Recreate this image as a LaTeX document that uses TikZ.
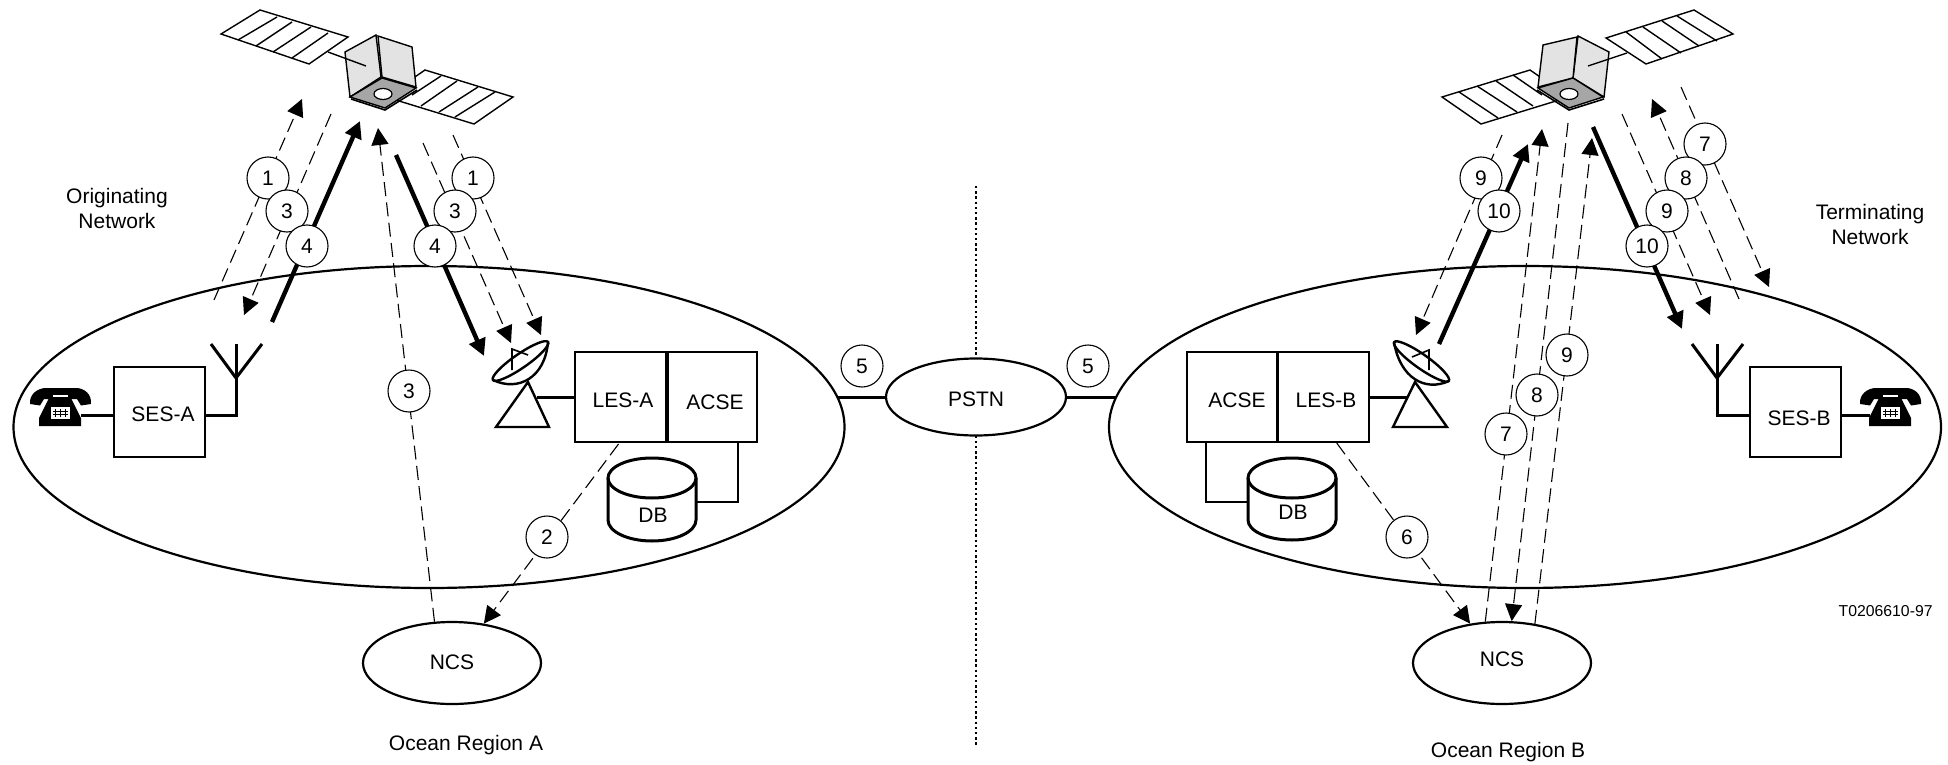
\documentclass[tikz,border=0pt]{standalone}
\usepackage{fontspec}
\setmainfont{Liberation Sans}
\usetikzlibrary{arrows.meta,shapes.geometric}
\tikzset{
  txt/.style={inner sep=0pt,font=\fontsize{10.5}{12.5}\selectfont,align=center},
  smalltxt/.style={inner sep=0pt,font=\fontsize{7.9}{9}\selectfont},
  netw/.style={ellipse,draw,line width=1.1pt,inner sep=0pt,minimum width=415.5pt,minimum height=161pt},
  minor/.style={ellipse,draw,fill=white,line width=1.1pt,inner sep=0pt,minimum width=89pt,minimum height=41pt,font=\fontsize{10.5}{12.5}\selectfont},
  unit/.style={rectangle,draw,line width=1pt,inner sep=0pt,minimum width=45.5pt,minimum height=45pt,font=\fontsize{10.5}{12.5}\selectfont},
  num/.style={circle,draw,fill=white,line width=0.55pt,inner sep=0pt,minimum size=21pt,font=\fontsize{10.5}{12.5}\selectfont},
  wire/.style={line width=1.5pt},
  thinwire/.style={line width=1pt},
  sig/.style={line width=0.55pt,dash pattern=on 7pt off 3.2pt},
  sigarrow/.style={sig,-{Triangle[length=8.5pt,width=8.5pt]}},
  heavy/.style={line width=2.2pt},
  heavyarrow/.style={heavy,-{Triangle[length=8.5pt,width=8.5pt]}},
  panel/.style={line width=0.7pt,fill=white},
  stripe/.style={line width=0.7pt},
  face/.style={line width=0.7pt,fill=black!11},
  under/.style={line width=0.7pt,fill=black!35},
  dishline/.style={line width=1.2pt},
}
\newcommand{\lowered}[2]{\raisebox{\dimexpr-3.75pt-#1\relax}[0pt][0pt]{#2}}
\newcommand{\phoneicon}[2]{%
  \begin{scope}[shift={(#1,#2)}]
    \fill (0,16) .. controls (-1,6) and (8,0) .. (16,0) -- (46,0) .. controls (54,0) and (62,6) .. (61,16) -- (51,17.5) -- (47,11) -- (14,11) -- (10,17.5) -- cycle;
    \fill (9,38) -- (51,38) -- (51,30) -- (41,10) -- (19,10) -- (9,30) -- cycle;
    \draw[white,line width=0.6pt] (23,8) -- (38,8);
    \fill[white] (21,19) rectangle (40,31);
    \draw[line width=0.3pt] (25.5,21) -- (25.5,29) (30.5,21) -- (30.5,29) (35.5,21) -- (35.5,29) (23,23.5) -- (38,23.5) (23,26.5) -- (38,26.5);
  \end{scope}}
\begin{document}
\begin{tikzpicture}[x=0.5pt,y=-0.5pt]
\useasboundingbox (0,0) rectangle (1948,765);

% dotted divider
\coordinate (divtop) at (976,186);
\coordinate (divbot) at (976,747);
\draw[line width=0.6pt,dash pattern=on 1.2pt off 1.4pt] (divtop) -- (divbot);

% networks
\node[netw] (lnet) at (429,427) {};
\node[netw,minimum width=416pt] (rnet) at (1525,427) {};
\node[minor,minimum width=90pt,minimum height=38.5pt] (pstn) at (976,397) {\lowered{1pt}{PSTN}};
\node[minor] (ncsa) at (452,663) {\lowered{-0.5pt}{NCS}};
\node[minor] (ncsb) at (1502,663) {\lowered{-2pt}{NCS}};
\draw[wire,shorten >=-4pt] (pstn.west) -- (pstn.west -| lnet.east);
\draw[wire,shorten >=-4pt] (pstn.east) -- (pstn.east -| rnet.west);

% left satellite
\draw[panel] (221,34) -- (260,10) -- (348,37) -- (309,64) -- cycle;
\draw[stripe] (238,40) -- (277,17) (256,46) -- (292,22) (273,52) -- (311,27) (292,58) -- (328,33);
\draw[panel] (425,70) -- (513,97) -- (474,124) -- (386,97) -- cycle;
\draw[stripe] (441,76) -- (412,95) (457,81) -- (421,106) (478,87) -- (439,112) (495,92) -- (455,117);
\draw[face] (345,52) -- (376,35) -- (381,77) -- (350,97) -- cycle;
\draw[face] (378,36) -- (412,47) -- (416,87) -- (382,77) -- cycle;
\draw[under] (350,97) -- (382,78) -- (416,88) -- (385,108) -- cycle;
\draw[line width=0.8pt] (351,99) -- (385,110) -- (417,90);
\draw[line width=0.6pt,fill=white] (383,94) ellipse [x radius=9,y radius=5.5];
\draw[stripe] (328,52) -- (366,66);

% right satellite
\draw[panel] (1606,38) -- (1694,10) -- (1733,34) -- (1646,64) -- cycle;
\draw[stripe] (1626,32) -- (1662,59) (1643,27) -- (1681,53) (1662,21) -- (1699,46) (1677,16) -- (1717,41);
\draw[panel] (1530,70) -- (1442,97) -- (1481,124) -- (1569,97) -- cycle;
\draw[stripe] (1459,92) -- (1498,118) (1477,86) -- (1517,112) (1496,81) -- (1533,106) (1513,75) -- (1542,95);
\draw[face] (1578,36) -- (1609,52) -- (1604,97) -- (1573,78) -- cycle;
\draw[face] (1543,45) -- (1577,37) -- (1573,78) -- (1538,87) -- cycle;
\draw[under] (1538,88) -- (1573,78) -- (1603,97) -- (1569,108) -- cycle;
\draw[line width=0.8pt] (1537,90) -- (1569,110) -- (1604,99);
\draw[line width=0.6pt,fill=white] (1569,94) ellipse [x radius=9,y radius=5.5];
\draw[stripe] (1627,53) -- (1588,66);

% phones, SES, antennas
\phoneicon{30}{388}
\phoneicon{1860}{388}
\coordinate (phonea) at (81,415);
\coordinate (phoneb) at (1870,415);
\node[unit] (sesa) at (159.5,412) {\hspace*{3.5pt}\lowered{1pt}{SES-A}};
\node[unit] (sesb) at (1795,412) {\hspace*{4pt}\lowered{3pt}{SES-B}};
\coordinate (anta) at (236,415);
\coordinate (antb) at (1717,415);
\draw[wire] (phonea) -- (phonea -| sesa.west);
\draw[wire] (sesa.east |- anta) -- (anta) -- (236,344);
\draw[wire] (211,344) -- (236,378) -- (262,344);
\draw[wire] (phoneb) -- (phoneb -| sesb.east);
\draw[wire] (sesb.west |- antb) -- (antb) -- (1717,344);
\draw[wire] (1692,344) -- (1717,378) -- (1743,344);

% LES / ACSE
\node[unit] (lesa) at (620.5,397) {\hspace*{2.5pt}\lowered{1.5pt}{LES-A}};
\node[unit] (acsea) at (711.5,397) {\hspace*{3.5pt}\lowered{2.5pt}{ACSE}};
\draw[wire] (lesa.north east) -- (lesa.south east);
\node[unit] (acseb) at (1232.5,397) {\hspace*{4.5pt}\lowered{1.5pt}{ACSE}};
\node[unit] (lesb) at (1323.5,397) {\hspace*{2.5pt}\lowered{1.5pt}{LES-B}};
\draw[wire] (lesb.north west) -- (lesb.south west);

% DB
\draw[wire] (608,478) -- (608,520) arc [start angle=180,end angle=360,x radius=44,y radius=-21] -- (696,478);
\draw[wire] (652,478) ellipse [x radius=44,y radius=20];
\node[txt] (dba) at (653,515) {DB};
\coordinate (dbae) at (696,502);
\draw[thinwire] (acsea.-60) |- (dbae);
\draw[wire] (1248,478) -- (1248,520) arc [start angle=180,end angle=360,x radius=44,y radius=-20] -- (1336,478);
\draw[wire] (1292,478) ellipse [x radius=44,y radius=20];
\node[txt] (dbb) at (1293,512) {DB};
\coordinate (dbbw) at (1248,502);
\draw[thinwire] (acseb.-120) |- (dbbw);

% dishes
\coordinate (disha) at (537,397);
\draw[wire] (lesa.west |- disha) -- (disha);
\draw[line width=1.2pt] (528,382) -- (549,427) -- (496,427) -- cycle;
\draw[dishline,fill=white] (493,380) .. controls (518,392) and (545,378) .. (548,342);
\draw[dishline] [rotate around={34.6:(520.5,361)}] (520.5,361) ellipse [x radius=33.5,y radius=7];
\draw[line width=0.8pt] (512,370) -- (512,349) -- (528,355);
\coordinate (dishb) at (1407,397);
\draw[wire] (lesb.east |- dishb) -- (dishb);
\draw[line width=1.2pt] (1415,382) -- (1447,427) -- (1393,427) -- cycle;
\draw[dishline,fill=white] (1394,342) .. controls (1400,378) and (1425,392) .. (1449,381);
\draw[dishline] [rotate around={-35.3:(1421.5,361.5)}] (1421.5,361.5) ellipse [x radius=33.5,y radius=7];
\draw[line width=0.8pt] (1429,370) -- (1429,350) -- (1412,357);

% free ends of the radio paths, left region
\coordinate (a1s) at (214,300); \coordinate (a1e) at (302,99);
\coordinate (a3s) at (331,114); \coordinate (a3e) at (244,315);
\coordinate (a4s) at (272,322); \coordinate (a4e) at (360,121);
\coordinate (b3e) at (378,128);
\coordinate (c4s) at (396,155); \coordinate (c4e) at (484,356);
\coordinate (c3s) at (423,143); \coordinate (c3e) at (511,343);
\coordinate (c1s) at (453,135); \coordinate (c1e) at (541,335);
\draw[sigarrow] (a1s) -- (a1e);
\draw[sigarrow] (a3s) -- (a3e);
\draw[heavyarrow] (a4s) -- (a4e);
\draw[sigarrow] (ncsa.113) -- (b3e);
\draw[heavyarrow] (c4s) -- (c4e);
\draw[sigarrow] (c3s) -- (c3e);
\draw[sigarrow] (c1s) -- (c1e);
\draw[sigarrow] (lesa.south) ++(-2,1) -- (ncsa.51);

% free ends of the radio paths, right region
\coordinate (d9s) at (1502,135); \coordinate (d9e) at (1416,335);
\coordinate (d10s) at (1439,344); \coordinate (d10e) at (1528,144);
\coordinate (e7e) at (1542,129);
\coordinate (e8s) at (1568,123);
\coordinate (e9e) at (1592,138);
\coordinate (f10s) at (1593,127); \coordinate (f10e) at (1682,329);
\coordinate (f9s) at (1622,114); \coordinate (f9e) at (1710,315);
\coordinate (f8s) at (1739,299); \coordinate (f8e) at (1652,99);
\coordinate (f7s) at (1681,87); \coordinate (f7e) at (1769,287);
\draw[sigarrow] (d9s) -- (d9e);
\draw[heavyarrow] (d10s) -- (d10e);
\draw[sigarrow] (ncsb.112.5) -- (e7e);
\draw[sigarrow] (e8s) -- (ncsb.77.6);
\draw[sigarrow] (ncsb.50) -- (e9e);
\draw[heavyarrow] (f10s) -- (f10e);
\draw[sigarrow] (f9s) -- (f9e);
\draw[sigarrow] (f8s) -- (f8e);
\draw[sigarrow] (f7s) -- (f7e);
\draw[sigarrow] (lesb.-74) -- (ncsb.129);

% numbered markers
\node[num] (n1a) at (268,178) {1};
\node[num] (n3a) at (287,211) {3};
\node[num] (n4a) at (307,246) {4};
\node[num] (n1b) at (473,178) {1};
\node[num] (n3b) at (455,211) {3};
\node[num] (n4b) at (435,246) {4};
\node[num] (n3c) at (409,391) {3};
\node[num] (n2) at (547,537) {2};
\node[num] (n5a) at (862,366) {5};
\node[num] (n5b) at (1088,366) {5};
\node[num] (n6) at (1407,537) {6};
\node[num] (n9a) at (1481,178) {9};
\node[num] (n10a) at (1499,211) {10};
\node[num] (n7a) at (1506,434) {7};
\node[num] (n8a) at (1537,395) {8};
\node[num] (n9b) at (1567,355) {9};
\node[num] (n7b) at (1705,144) {7};
\node[num] (n8b) at (1686,178) {8};
\node[num] (n9c) at (1667,211) {9};
\node[num] (n10b) at (1647,246) {10};

% captions
\node[txt] (orig) at (117,208) {Originating\\Network};
\node[txt] (term) at (1870,224) {Terminating\\Network};
\node[txt] (oca) at (466,745) {Ocean Region A};
\node[txt] (ocb) at (1508,752) {Ocean Region B};
\node[smalltxt,anchor=east] (ref) at (1933,611) {T0206610-97};
\end{tikzpicture}
\end{document}
